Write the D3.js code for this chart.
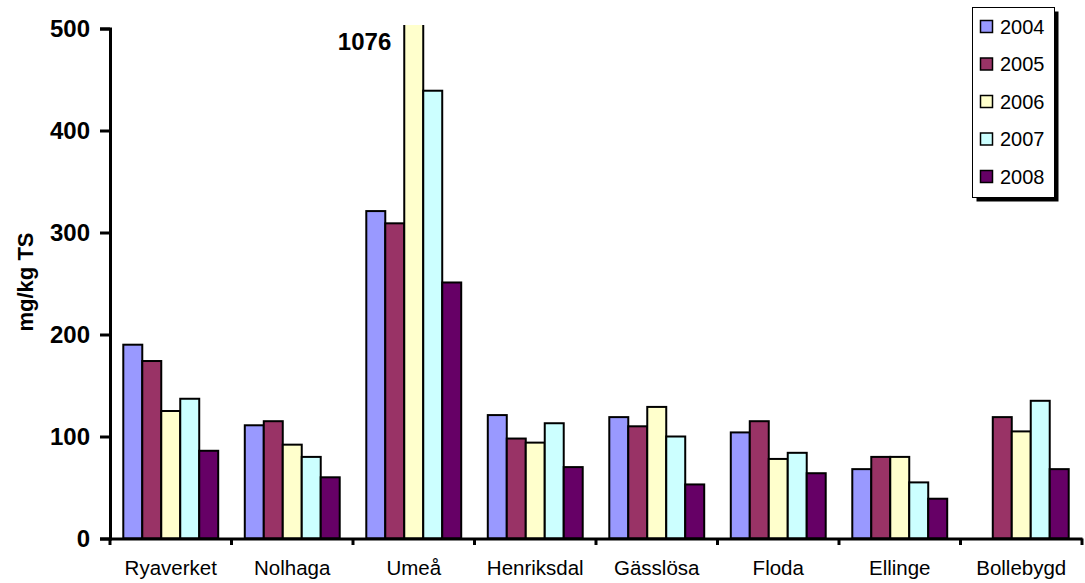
<!DOCTYPE html>
<html><head><meta charset="utf-8">
<script src="https://cdn.jsdelivr.net/npm/d3@7"></script>
<style>body{margin:0;background:#fff}svg{display:block}</style>
</head><body>
<svg id="c" width="1085" height="583"></svg>
<script>
const categories = ["Ryaverket","Nolhaga","Umeå","Henriksdal","Gässlösa","Floda","Ellinge","Bollebygd"];
const years = ["2004","2005","2006","2007","2008"];
const colors = ["#9999FF","#993366","#FFFFCC","#CCFFFF","#660066"];
const v2004 = [190, 111, 321, 121, 119, 104, 68, null];
const v2005 = [174, 115, 309, 98, 110, 115, 80, 119];
const v2006 = [125, 92, 1076, 94, 129, 78, 80, 105];
const v2007 = [137, 80, 439, 113, 100, 84, 55, 135];
const v2008 = [86, 60, 251, 70, 53, 64, 39, 68];
const yTicks = [0, 100, 200, 300, 400, 500];
const series = [v2004, v2005, v2006, v2007, v2008];
const FONT = "Liberation Sans, Arial, sans-serif";

const svg = d3.select("#c");
const x0 = d3.scaleBand().domain(categories).range([110, 1082]).paddingInner(0).paddingOuter(0);
const x1 = d3.scaleBand().domain(years).range([0, x0.bandwidth()]).paddingOuter(0.7);
const y = d3.scaleLinear().domain([0, 500]).range([538.5, 28.5]);

svg.append("defs").append("clipPath").attr("id", "plotclip")
  .append("rect").attr("x", 0).attr("y", 25).attr("width", 1085).attr("height", 560);

// bars
const barsG = svg.append("g").attr("clip-path", "url(#plotclip)");
categories.forEach((c, i) => {
  const g = barsG.append("g").attr("transform", `translate(${x0(c)},0)`);
  years.forEach((yr, k) => {
    const v = series[k][i];
    if (v == null) return;
    g.append("rect")
      .attr("x", x1(yr)).attr("width", x1.bandwidth())
      .attr("y", y(v)).attr("height", y(0) - y(v))
      .attr("fill", colors[k]).attr("stroke", "#000").attr("stroke-width", 2);
  });
});

// y axis
const ya = svg.append("g").attr("transform", "translate(110,0)")
  .call(d3.axisLeft(y).tickValues(yTicks).tickSize(10).tickPadding(10));
ya.select(".domain").attr("stroke-width", 3);
ya.selectAll(".tick line").attr("stroke-width", 3);
ya.selectAll("text").attr("font-family", FONT)
  .attr("font-size", 24).attr("font-weight", "bold").attr("dy", "0.35em");

// x axis
const xa = svg.append("g").attr("transform", "translate(0,538.5)")
  .call(d3.axisBottom(x0).tickSize(0).tickPadding(22));
xa.select(".domain").attr("stroke-width", 3);
xa.selectAll("text").attr("font-family", FONT)
  .attr("font-size", 20.5).attr("fill", "#000");
// category boundary ticks
const bounds = categories.map(c => x0(c)).concat([x0.range()[1]]);
svg.append("g").selectAll("line").data(bounds).join("line")
  .attr("x1", d => d).attr("x2", d => d).attr("y1", 538.5).attr("y2", 545)
  .attr("stroke", "#000").attr("stroke-width", 3);

// 1076 label
svg.append("text").attr("x", x0("Umeå") + x1("2006") - 13).attr("y", 50)
  .attr("text-anchor", "end").attr("font-family", FONT)
  .attr("font-size", 24).attr("font-weight", "bold").text(String(v2006[2]));

// y label
svg.append("text").attr("transform", "translate(33,282) rotate(-90)")
  .attr("text-anchor", "middle").attr("font-family", FONT)
  .attr("font-size", 22).attr("font-weight", "bold").text("mg/kg TS");

// legend
const lg = svg.append("g");
lg.append("rect").attr("x", 976.5).attr("y", 11.5).attr("width", 82).attr("height", 190).attr("fill", "#000");
lg.append("rect").attr("x", 972.5).attr("y", 7.5).attr("width", 82).attr("height", 190)
  .attr("fill", "#fff").attr("stroke", "#000").attr("stroke-width", 1);
years.forEach((yr, k) => {
  const cy = 26.5 + k * 37.5;
  lg.append("rect").attr("x", 980.5).attr("y", cy - 6).attr("width", 12).attr("height", 12)
    .attr("fill", colors[k]).attr("stroke", "#000").attr("stroke-width", 1.5);
  lg.append("text").attr("x", 1000).attr("y", cy).attr("dy", "0.36em")
    .attr("font-family", FONT).attr("font-size", 20).text(yr);
});
</script>
</body></html>
